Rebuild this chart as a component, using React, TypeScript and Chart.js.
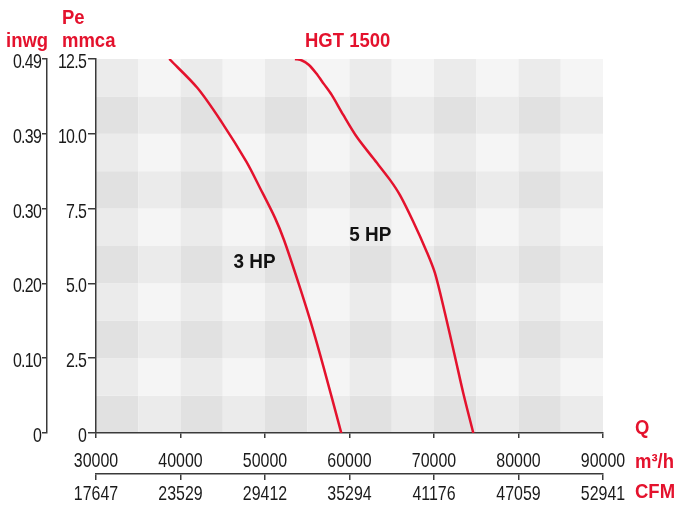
import React, { useEffect, useRef } from "react";
import { Chart, registerables } from "chart.js";

Chart.register(...registerables);

// ---- data ----
const flowTicksM3h = [30000, 40000, 50000, 60000, 70000, 80000, 90000];
const flowTicksCFM = ["17647", "23529", "29412", "35294", "41176", "47059", "52941"];
const pressureTicksMmca = [0, 2.5, 5, 7.5, 10, 12.5];
const pressureLabelsMmca = ["0", "2.5", "5.0", "7.5", "10.0", "12.5"];
const pressureLabelsInwg = ["0", "0.10", "0.20", "0.30", "0.39", "0.49"];

const hp3Flow = [38674, 42011, 44851, 47810, 49408, 51183, 52250, 53964, 55443, 56922, 59029];
const hp3Pressure = [12.5, 11.53, 10.4, 9.06, 8.19, 7.19, 6.45, 5.01, 3.68, 2.21, 0];

const hp5Flow = [53550, 54378, 55206, 56035, 56982, 57893, 59265, 60851, 62815, 64792, 65975, 67549, 69135, 70117, 71300, 72484, 73466, 74650];
const hp5Pressure = [12.5, 12.45, 12.3, 12.03, 11.66, 11.3, 10.63, 9.9, 9.18, 8.46, 7.95, 7.06, 6.06, 5.34, 4.0, 2.55, 1.33, 0];

const curveNames = ["3 HP", "5 HP"];
const curveLabelFlow = [48760, 62460];
const curveLabelPressure = [5.75, 6.68];

const flowCellStep = 5000;
const pressureCellStep = 1.25;

const RED = "#e4122d";
const FONT = "'Liberation Sans', Arial, sans-serif";
const TICK_SX = 0.76;
const BOLD_SX = 0.88;

function drawScaled(ctx: any, text: string, x: number, y: number, align: string, sx: number) {
  ctx.save();
  ctx.translate(x, y);
  ctx.scale(sx, 1);
  ctx.textAlign = align;
  ctx.fillText(text, 0, 0);
  ctx.restore();
}

const checkerPlugin = {
  id: "checker",
  beforeDraw(chart: any) {
    const { ctx } = chart;
    const xs = chart.scales.x;
    const ys = chart.scales.y;
    const nx = Math.round((xs.max - xs.min) / flowCellStep);
    const ny = Math.round((ys.max - ys.min) / pressureCellStep);
    ctx.save();
    for (let i = 0; i < nx; i++) {
      const x0 = xs.getPixelForValue(xs.min + i * flowCellStep);
      const x1 = xs.getPixelForValue(xs.min + (i + 1) * flowCellStep);
      for (let j = 0; j < ny; j++) {
        const y0 = ys.getPixelForValue(ys.min + j * pressureCellStep);
        const y1 = ys.getPixelForValue(ys.min + (j + 1) * pressureCellStep);
        const dark = (i % 2 === 0 ? 1 : 0) + (j % 2 === 0 ? 1 : 0);
        ctx.fillStyle = dark === 2 ? "#e1e1e1" : dark === 1 ? "#ebebeb" : "#f5f5f5";
        ctx.fillRect(x0, y1, x1 - x0, y0 - y1);
      }
    }
    ctx.restore();
  },
};

const textPlugin = {
  id: "texts",
  afterDraw(chart: any) {
    const { ctx, chartArea } = chart;
    const xs = chart.scales.x;
    const x2 = chart.scales.x2;
    const ys = chart.scales.y;
    const y2 = chart.scales.y2;
    ctx.save();
    ctx.textBaseline = "alphabetic";

    // tick labels
    ctx.fillStyle = "#1a1a1a";
    ctx.font = `21px ${FONT}`;
    flowTicksM3h.forEach((v, i) => {
      drawScaled(ctx, String(v), xs.getPixelForValue(v), xs.top + 34, "center", TICK_SX);
      drawScaled(ctx, flowTicksCFM[i], x2.getPixelForValue(v), x2.top + 26, "center", TICK_SX);
    });
    ctx.letterSpacing = "-1px";
    pressureTicksMmca.forEach((v, i) => {
      drawScaled(ctx, pressureLabelsMmca[i], ys.right - 10, ys.getPixelForValue(v) + 9, "right", TICK_SX);
      drawScaled(ctx, pressureLabelsInwg[i], y2.right - 6, y2.getPixelForValue(v) + 9, "right", TICK_SX);
    });
    ctx.letterSpacing = "0px";

    // titles
    ctx.fillStyle = RED;
    ctx.font = `bold 21px ${FONT}`;
    const L = chartArea.left;
    const T = chartArea.top;
    const R = chartArea.right;
    const B = chartArea.bottom;
    drawScaled(ctx, "Pe", L - 34, T - 35, "left", BOLD_SX);
    drawScaled(ctx, "inwg", L - 90, T - 12.5, "left", BOLD_SX);
    drawScaled(ctx, "mmca", L - 34, T - 12.5, "left", BOLD_SX);
    drawScaled(ctx, "HGT 1500", L + 209, T - 12.5, "left", BOLD_SX);
    drawScaled(ctx, "Q", R + 32, B + 1, "left", BOLD_SX);
    drawScaled(ctx, "m\u00b3/h", R + 32, B + 35, "left", BOLD_SX);
    drawScaled(ctx, "CFM", R + 32, B + 64.5, "left", BOLD_SX);

    // curve labels
    ctx.fillStyle = "#111";
    ctx.font = `bold 21px ${FONT}`;
    curveNames.forEach((n, k) => {
      drawScaled(ctx, n, xs.getPixelForValue(curveLabelFlow[k]), ys.getPixelForValue(curveLabelPressure[k]) + 7.5, "center", 0.9);
    });
    ctx.restore();
  },
};

function toPoints(xv: number[], yv: number[]) {
  return xv.map((x, i) => ({ x, y: yv[i] }));
}

export default function App() {
  const ref = useRef<HTMLCanvasElement | null>(null);
  useEffect(() => {
    if (!ref.current) return;
    const axisColor = "#3a3a3a";
    const hidden = { color: "rgba(0,0,0,0)", font: { size: 12 }, autoSkip: false, maxRotation: 0 };
    const chart = new Chart(ref.current, {
      type: "line",
      data: {
        datasets: [
          {
            label: "3 HP",
            data: toPoints(hp3Flow, hp3Pressure),
            borderColor: RED,
            borderWidth: 2.5,
            pointRadius: 0,
            tension: 0.3,
            xAxisID: "x",
            yAxisID: "y",
          },
          {
            label: "5 HP",
            data: toPoints(hp5Flow, hp5Pressure),
            borderColor: RED,
            borderWidth: 2.5,
            pointRadius: 0,
            tension: 0.3,
            xAxisID: "x",
            yAxisID: "y",
          },
        ],
      },
      options: {
        animation: false,
        responsive: false,
        maintainAspectRatio: false,
        layout: { padding: { left: 0, top: 59, right: 86, bottom: 0 } },
        plugins: { legend: { display: false }, tooltip: { enabled: false }, title: { display: false } },
        scales: {
          x: {
            type: "linear",
            position: "bottom",
            weight: 0,
            min: 30000,
            max: 90000,
            afterBuildTicks: (s: any) => {
              s.ticks = flowTicksM3h.map((v) => ({ value: v }));
            },
            afterFit: (s: any) => {
              s.height = 41;
            },
            ticks: hidden,
            grid: { drawOnChartArea: false, drawTicks: true, tickLength: 5, color: axisColor, lineWidth: 1.5 },
            border: { display: true, color: axisColor, width: 1.5 },
          },
          x2: {
            type: "linear",
            position: "bottom",
            weight: 1,
            min: 30000,
            max: 90000,
            afterBuildTicks: (s: any) => {
              s.ticks = flowTicksM3h.map((v) => ({ value: v }));
            },
            afterFit: (s: any) => {
              s.height = 35;
            },
            ticks: hidden,
            grid: { drawOnChartArea: false, drawTicks: true, tickLength: 6, color: axisColor, lineWidth: 1.5 },
            border: { display: true, color: axisColor, width: 1.5 },
          },
          y: {
            type: "linear",
            position: "left",
            weight: 0,
            min: 0,
            max: 12.5,
            afterBuildTicks: (s: any) => {
              s.ticks = pressureTicksMmca.map((v) => ({ value: v }));
            },
            afterFit: (s: any) => {
              s.width = 49;
            },
            ticks: hidden,
            grid: { drawOnChartArea: false, drawTicks: true, tickLength: 8, color: axisColor, lineWidth: 1.5 },
            border: { display: true, color: axisColor, width: 1.5 },
          },
          y2: {
            type: "linear",
            position: "left",
            weight: 1,
            min: 0,
            max: 12.5,
            afterBuildTicks: (s: any) => {
              s.ticks = pressureTicksMmca.map((v) => ({ value: v }));
            },
            afterFit: (s: any) => {
              s.width = 47;
            },
            ticks: hidden,
            grid: { drawOnChartArea: false, drawTicks: true, tickLength: 5, color: axisColor, lineWidth: 1.5 },
            border: { display: true, color: axisColor, width: 1.5 },
          },
        },
      },
      plugins: [checkerPlugin, textPlugin],
    } as any);
    return () => chart.destroy();
  }, []);
  return (
    <div style={{ position: "absolute", left: 0, top: 0, width: 689, height: 509, background: "#fff" }}>
      <canvas ref={ref} width={689} height={509} style={{ display: "block", width: 689, height: 509 }} />
    </div>
  );
}
